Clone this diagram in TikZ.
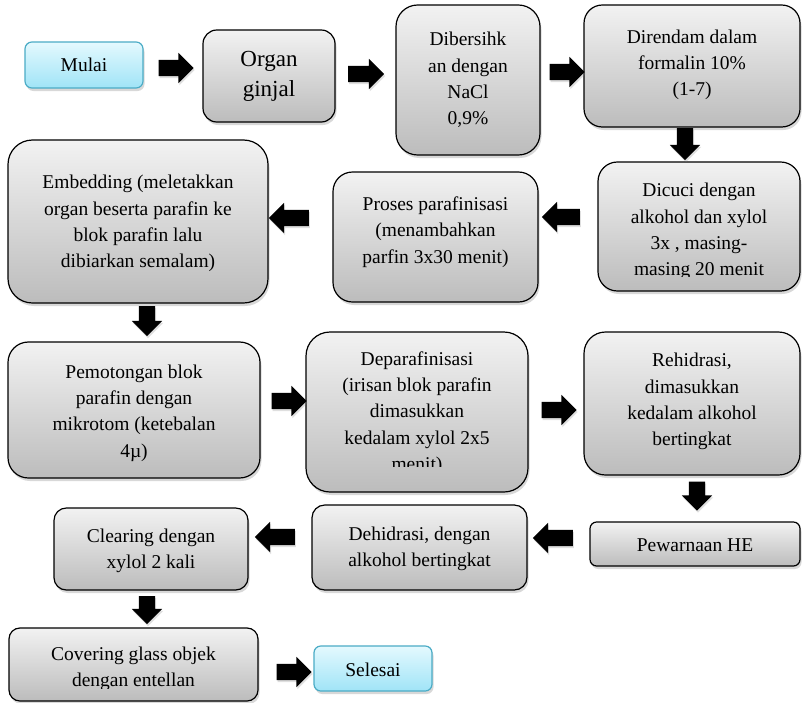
\documentclass[tikz,border=0pt]{standalone}
\usepackage{fontspec}
\setmainfont{Liberation Serif}
\usetikzlibrary{shapes.arrows,shadows}
\definecolor{gtop}{RGB}{242,242,242}
\definecolor{gbot}{RGB}{188,188,188}
\definecolor{ctop}{RGB}{228,249,254}
\definecolor{cbot}{RGB}{160,228,247}
\definecolor{cline}{RGB}{75,172,198}
\tikzset{
  boxbase/.style={inner sep=0pt, outer sep=0pt, line width=1.2pt,
    drop shadow={opacity=0.3, shadow xshift=1.5pt, shadow yshift=-3pt}},
  gbox/.style={boxbase, draw=black, top color=gtop, bottom color=gbot},
  cbox/.style={boxbase, draw=cline, top color=ctop, bottom color=cbot},
  txt/.style={inner sep=0pt, align=center, font=\fontsize{19.5}{26.3}\selectfont},
  bigtxt/.style={inner sep=0pt, align=center, font=\fontsize{23}{30}\selectfont},
  barrow/.style={single arrow, fill=black, draw=none, inner sep=0pt, outer sep=0pt,
    minimum width=30pt, single arrow head extend=7pt, single arrow tip angle=90,
    drop shadow={opacity=0.25, shadow xshift=1pt, shadow yshift=-2pt}},
  rarr/.style={barrow, shape border rotate=0},
  larr/.style={barrow, shape border rotate=180},
  darr/.style={barrow, shape border rotate=270},
}
\newcommand\shaft{\phantom{\rule{16pt}{16pt}}}
% #1 style, #2 name, #3 x1, #4 y1, #5 x2, #6 y2, #7 text dy, #8 text
\newcommand\mybox[8][gbox]{%
  \pgfmathsetmacro\rr{0.15*min(#5-#3,#6-#4)}%
  \node[#1, rounded corners=\rr pt, minimum width={(#5-#3)*1pt}, minimum height={(#6-#4)*1pt}]
    (#2) at ({(#3+#5)/2},{(#4+#6)/2}) {};
  \node[txt] (#2-t) at ({(#3+#5)/2},{(#4+#6)/2+#7}) {#8};}
% clipped box: #1 name, #2 x1, #3 y1, #4 x2, #5 y2, #6 dy, #7 clip y, #8 text
\newcommand\clipbox[8]{%
  \pgfmathsetmacro\rr{0.15*min(#4-#2,#5-#3)}%
  \node[gbox, rounded corners=\rr pt, minimum width={(#4-#2)*1pt}, minimum height={(#5-#3)*1pt}]
    (#1) at ({(#2+#4)/2},{(#3+#5)/2}) {};
  \begin{scope}
    \clip (#2,#3) rectangle (#4,#7);
    \node[txt] (#1-t) at ({(#2+#4)/2},{(#3+#5)/2+#6}) {#8};
  \end{scope}}
\begin{document}
\begin{tikzpicture}[x=1pt,y=-1pt]
\useasboundingbox[fill=white] (0,0) rectangle (802,702);

% boxes
\mybox[cbox]{mulai}{25}{42}{143}{88}{0}{Mulai}
\pgfmathsetmacro\rr{0.15*92}
\node[gbox, rounded corners=\rr pt, minimum width=132pt, minimum height=92pt] (organ) at (269,76) {};
\node[bigtxt] (organ-t) at (269,76) {Organ\\ginjal};
\mybox{dibersih}{396}{5}{540}{155}{0}{Dibersihk\\an dengan\\NaCl\\0,9\%}
\mybox{direndam}{584}{5}{800}{127}{-1}{Direndam dalam\\formalin 10\%\\(1-7)}
\clipbox{dicuci}{598}{162}{800}{291}{5}{276}{Dicuci dengan\\alkohol dan xylol\\3x , masing-\\masing 20 menit}
\mybox{proses}{333}{172}{538}{302}{-5}{Proses parafinisasi\\(menambahkan\\parfin 3x30 menit)}
\mybox{embed}{8}{140}{268}{303}{2}{Embedding (meletakkan\\organ beserta parafin ke\\blok parafin lalu\\dibiarkan semalam)}
\mybox{potong}{8}{342}{260}{478}{3}{Pemotongan blok\\parafin dengan\\mikrotom (ketebalan\\4µ)}
\clipbox{depar}{306}{332}{528}{492}{1}{466}{Deparafinisasi\\(irisan blok parafin\\dimasukkan\\kedalam xylol 2x5\\menit)}
\mybox{rehid}{584}{332}{800}{475}{-2}{Rehidrasi,\\dimasukkan\\kedalam alkohol\\bertingkat}
\mybox{warna}{590}{522}{800}{566}{1}{Pewarnaan HE}
\mybox{dehid}{312}{505}{527}{590}{1}{Dehidrasi, dengan\\alkohol bertingkat}
\mybox{clear}{54}{508}{248}{590}{2}{Clearing dengan\\xylol 2 kali}
\clipbox{cover}{9}{628}{258}{701}{4}{688}{Covering glass objek\\dengan entellan}
\mybox[cbox]{selesai}{314}{646}{432}{691}{1}{Selesai}

% block arrows
\node[rarr, minimum height=35pt] (a1) at (172,68) {\shaft};
\node[rarr, minimum height=36pt] (a2) at (362,74) {\shaft};
\node[rarr, minimum height=35pt] (a3) at (563,72) {\shaft};
\node[darr, minimum height=32pt] (a4) at (685,140) {\shaft};
\node[larr, minimum height=38pt] (a5) at (565,217) {\shaft};
\node[larr, minimum height=40pt] (a6) at (293,218) {\shaft};
\node[darr, minimum height=30pt] (a7) at (147,317) {\shaft};
\node[rarr, minimum height=35pt] (a8) at (285,401) {\shaft};
\node[rarr, minimum height=35pt] (a9) at (555,410) {\shaft};
\node[darr, minimum height=29pt] (a10) at (697,492) {\shaft};
\node[larr, minimum height=40pt] (a11) at (557,538) {\shaft};
\node[larr, minimum height=40pt] (a12) at (279,537) {\shaft};
\node[darr, minimum height=28pt] (a13) at (147,606) {\shaft};
\node[rarr, minimum height=35pt] (a14) at (290,672) {\shaft};
\end{tikzpicture}
\end{document}
